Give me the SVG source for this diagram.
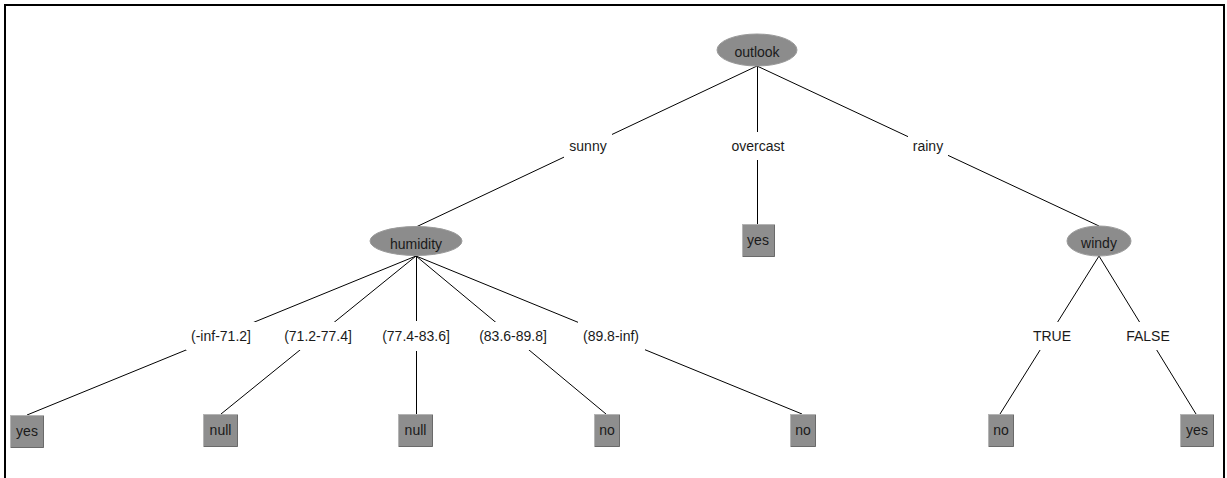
<svg xmlns="http://www.w3.org/2000/svg" width="1227" height="478" viewBox="0 0 1227 478">
<style>
text{font-family:"Liberation Sans",Arial,sans-serif;font-size:14px;fill:#1a1a1a;text-anchor:middle}
.e{fill:#8c8c8c;stroke:#9a9a9a;stroke-width:1}
.b{fill:#8e8e8e;stroke:#b4b4b4;stroke-width:1}
.sh{fill:none;stroke:#6a6a6a;stroke-width:1}
.c line{stroke:#000;stroke-width:1}
.lb{fill:#fff}
</style>
<rect width="1227" height="478" fill="#fff"/>
<path d="M5,478 V5 H1224 V478" fill="none" stroke="#000" stroke-width="2"/>
<g class="c" id="connectors">
<line x1="757" y1="66" x2="416" y2="227"/>
<line x1="757.5" y1="66" x2="757.5" y2="224"/>
<line x1="757" y1="66" x2="1099" y2="226"/>
<line x1="416" y1="256" x2="27" y2="415"/>
<line x1="416" y1="256" x2="221" y2="414"/>
<line x1="416.5" y1="256" x2="416.5" y2="414"/>
<line x1="416" y1="256" x2="606" y2="414"/>
<line x1="416" y1="256" x2="802" y2="414"/>
<line x1="1099" y1="256" x2="1000" y2="414"/>
<line x1="1099" y1="256" x2="1196" y2="414"/>
</g>
<g id="edge-labels">
<rect class="lb" x="564" y="133" width="48" height="26"/><text x="588" y="151">sunny</text>
<rect class="lb" x="726" y="132" width="64" height="28"/><text x="758" y="151">overcast</text>
<rect class="lb" x="908" y="133" width="40" height="26"/><text x="928" y="151">rainy</text>
<rect class="lb" x="186" y="322" width="70" height="28"/><text x="221" y="341">(-inf-71.2]</text>
<rect class="lb" x="279" y="322" width="78" height="28"/><text x="318" y="341">(71.2-77.4]</text>
<rect class="lb" x="377" y="321" width="79" height="30"/><text x="416" y="341">(77.4-83.6]</text>
<rect class="lb" x="474" y="322" width="79" height="28"/><text x="513" y="341">(83.6-89.8]</text>
<rect class="lb" x="578" y="322" width="67" height="28"/><text x="611" y="341">(89.8-inf)</text>
<rect class="lb" x="1028" y="322" width="48" height="28"/><text x="1052" y="341">TRUE</text>
<rect class="lb" x="1122" y="322" width="52" height="28"/><text x="1148" y="341">FALSE</text>
</g>
<g id="n-outlook"><ellipse class="e" cx="757" cy="50" rx="40" ry="16"/><text x="757" y="57">outlook</text></g>
<g id="n-humidity"><ellipse class="e" cx="416" cy="241" rx="46" ry="14.5"/><text x="416" y="249">humidity</text></g>
<g id="n-windy"><ellipse class="e" cx="1099" cy="241" rx="32" ry="15"/><text x="1099" y="248">windy</text></g>
<g id="n-yes-overcast"><rect class="b" x="742.5" y="224.5" width="32" height="32"/><path class="sh" d="M743,256.5 H774.5 V225"/><text x="758" y="245">yes</text></g>
<g id="n-yes-1"><rect class="b" x="10.5" y="415.5" width="33" height="32"/><path class="sh" d="M11,447.5 H43.5 V416"/><text x="27" y="436">yes</text></g>
<g id="n-null-1"><rect class="b" x="203.5" y="414.5" width="34" height="32"/><path class="sh" d="M204,446.5 H237.5 V415"/><text x="220.5" y="435">null</text></g>
<g id="n-null-2"><rect class="b" x="398.5" y="414.5" width="34" height="32"/><path class="sh" d="M399,446.5 H432.5 V415"/><text x="415.5" y="435">null</text></g>
<g id="n-no-1"><rect class="b" x="594.5" y="414.5" width="25" height="32"/><path class="sh" d="M595,446.5 H619.5 V415"/><text x="607" y="435">no</text></g>
<g id="n-no-2"><rect class="b" x="790.5" y="414.5" width="25" height="32"/><path class="sh" d="M791,446.5 H815.5 V415"/><text x="803" y="435">no</text></g>
<g id="n-no-3"><rect class="b" x="988.5" y="414.5" width="25" height="32"/><path class="sh" d="M989,446.5 H1013.5 V415"/><text x="1001" y="435">no</text></g>
<g id="n-yes-2"><rect class="b" x="1180.5" y="414.5" width="33" height="32"/><path class="sh" d="M1181,446.5 H1213.5 V415"/><text x="1197" y="435">yes</text></g>
</svg>
